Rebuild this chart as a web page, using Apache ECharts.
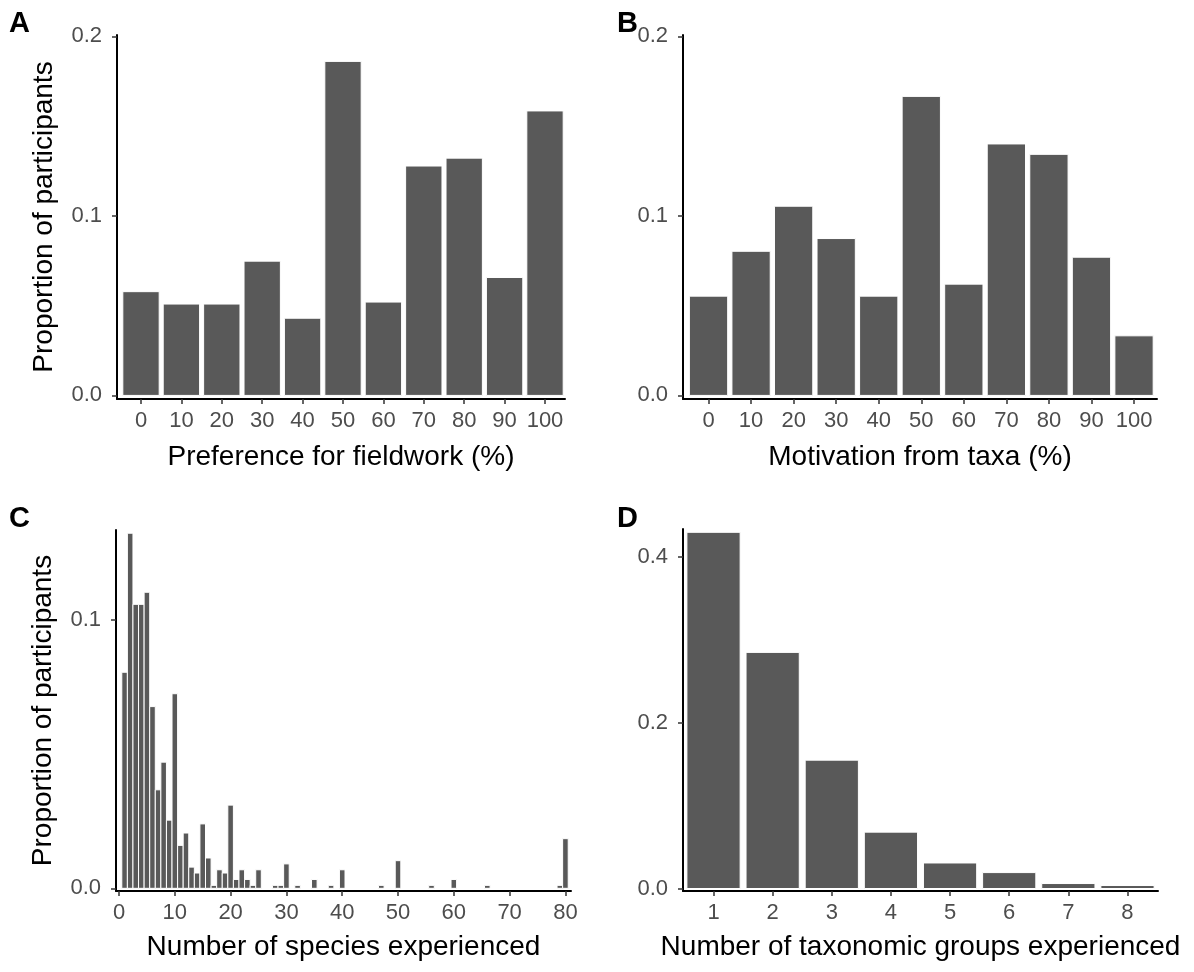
<!DOCTYPE html>
<html>
<head>
<meta charset="utf-8">
<script src="https://cdn.jsdelivr.net/npm/echarts@6/dist/echarts.min.js"></script>
<style>
html,body{margin:0;padding:0;background:#fff;}
#chart{width:1194px;height:972px;}
</style>
</head>
<body>
<div id="chart"></div>
<script>
// ---- Data ----
const fieldworkPct = [0, 10, 20, 30, 40, 50, 60, 70, 80, 90, 100];
const fieldworkProp = [0.0578, 0.0509, 0.0509, 0.0748, 0.0430, 0.1861, 0.0520, 0.1278, 0.1322, 0.0657, 0.1585];

const taxaPct = [0, 10, 20, 30, 40, 50, 60, 70, 80, 90, 100];
const taxaProp = [0.0553, 0.0803, 0.1054, 0.0874, 0.0553, 0.1666, 0.0620, 0.1401, 0.1343, 0.0770, 0.0332];

const speciesN = [1, 2, 3, 4, 5, 6, 7, 8, 9, 10, 11, 12, 13, 14, 15, 16, 17, 18, 19, 20,
  21, 22, 23, 24, 25, 28, 29, 30, 32, 35, 38, 40, 47, 50, 56, 60, 66, 79, 80];
const speciesProp = [0.0805, 0.1323, 0.1058, 0.1058, 0.1103, 0.0677, 0.0367, 0.0470, 0.0254, 0.0725,
  0.0160, 0.0206, 0.0079, 0.0057, 0.0240, 0.0113, 0.0011, 0.0069, 0.0057, 0.0310,
  0.0033, 0.0069, 0.0033, 0.0011, 0.0069, 0.0011, 0.0011, 0.0091, 0.0011, 0.0033,
  0.0011, 0.0069, 0.0011, 0.0103, 0.0011, 0.0033, 0.0011, 0.0011, 0.0185];

const groupsN = [1, 2, 3, 4, 5, 6, 7, 8];
const groupsProp = [0.4296, 0.2848, 0.1548, 0.0680, 0.0308, 0.0192, 0.0060, 0.0036];

const pctTicks = [0, 10, 20, 30, 40, 50, 60, 70, 80, 90, 100];
const speciesTicks = [0, 10, 20, 30, 40, 50, 60, 70, 80];
const groupTicks = [1, 2, 3, 4, 5, 6, 7, 8];
const propTicksAB = [0, 0.1, 0.2];
const propTicksC = [0, 0.1];
const propTicksD = [0, 0.2, 0.4];

// ---- Styling ----
const FONT = "'Liberation Sans', Arial, Helvetica, sans-serif";
const BAR = '#595959';
const TICK_COL = '#4d4d4d';

function zip(xs, ys) { return xs.map((x, i) => [x, ys[i]]); }

function xAxisCfg(idx, min, max, ticks, name, gap) {
  return {
    type: 'value', gridIndex: idx, min: min, max: max,
    name: name, nameLocation: 'middle', nameGap: gap,
    nameTextStyle: {fontFamily: FONT, fontSize: 28, color: '#000'},
    axisLine: {show: true, onZero: false, lineStyle: {color: '#000', width: 2}},
    axisTick: {show: true, customValues: ticks, length: 5, lineStyle: {color: '#333', width: 1.5}},
    axisLabel: {show: true, customValues: ticks, margin: 11, fontFamily: FONT, fontSize: 22, color: TICK_COL,
      formatter: v => String(v)},
    splitLine: {show: false}
  };
}
function yAxisCfg(idx, min, max, ticks, name) {
  return {
    type: 'value', gridIndex: idx, min: min, max: max,
    name: name || '', nameLocation: 'middle', nameGap: 59, nameRotate: 90,
    nameTextStyle: {fontFamily: FONT, fontSize: 28, color: '#000'},
    axisLine: {show: true, onZero: false, lineStyle: {color: '#000', width: 2}},
    axisTick: {show: true, customValues: ticks, length: 5, lineStyle: {color: '#333', width: 1.5}},
    axisLabel: {show: true, customValues: ticks, margin: 15, fontFamily: FONT, fontSize: 22, color: TICK_COL,
      formatter: v => Number(v).toFixed(1)},
    splitLine: {show: false}
  };
}
function barSeries(idx, data, w) {
  return {
    type: 'custom', xAxisIndex: idx, yAxisIndex: idx, data: data, clip: false,
    renderItem: function (params, api) {
      const x = api.value(0), y = api.value(1);
      const p0 = api.coord([x - w / 2, y]);
      const p1 = api.coord([x + w / 2, 0]);
      return {
        type: 'rect',
        shape: {x: p0[0], y: p0[1], width: p1[0] - p0[0], height: p1[1] - p0[1]},
        style: {fill: BAR, stroke: '#ffffff', lineWidth: 1}
      };
    }
  };
}

const chart = echarts.init(document.getElementById('chart'), null, {renderer: 'canvas'});
chart.setOption({
  animation: false,
  backgroundColor: '#ffffff',
  grid: [
    {left: 117, top: 35, width: 448, height: 364},
    {left: 683, top: 35, width: 474, height: 364},
    {left: 116, top: 530, width: 455, height: 361},
    {left: 683, top: 529, width: 475, height: 362}
  ],
  xAxis: [
    xAxisCfg(0, -5.94, 104.95, pctTicks, 'Preference for fieldwork (%)', 44),
    xAxisCfg(1, -6.0, 105.4, pctTicks, 'Motivation from taxa (%)', 44),
    xAxisCfg(2, -0.54, 81.0, speciesTicks, 'Number of species experienced', 42),
    xAxisCfg(3, 0.484, 8.516, groupTicks, 'Number of taxonomic groups experienced', 42)
  ],
  yAxis: [
    yAxisCfg(0, -0.002, 0.2008, propTicksAB, 'Proportion of participants'),
    yAxisCfg(1, -0.002, 0.2008, propTicksAB, ''),
    yAxisCfg(2, -0.001, 0.1335, propTicksC, 'Proportion of participants'),
    yAxisCfg(3, -0.003, 0.4336, propTicksD, '')
  ],
  series: [
    barSeries(0, zip(fieldworkPct, fieldworkProp), 9),
    barSeries(1, zip(taxaPct, taxaProp), 9),
    barSeries(2, zip(speciesN, speciesProp), 1),
    barSeries(3, zip(groupsN, groupsProp), 0.9)
  ],
  graphic: [
    {type: 'text', left: 9, top: 9, style: {text: 'A', font: 'bold 29px ' + FONT, fill: '#000'}},
    {type: 'text', left: 617, top: 9, style: {text: 'B', font: 'bold 29px ' + FONT, fill: '#000'}},
    {type: 'text', left: 9, top: 504, style: {text: 'C', font: 'bold 29px ' + FONT, fill: '#000'}},
    {type: 'text', left: 617, top: 504, style: {text: 'D', font: 'bold 29px ' + FONT, fill: '#000'}}
  ]
});
</script>
</body>
</html>
